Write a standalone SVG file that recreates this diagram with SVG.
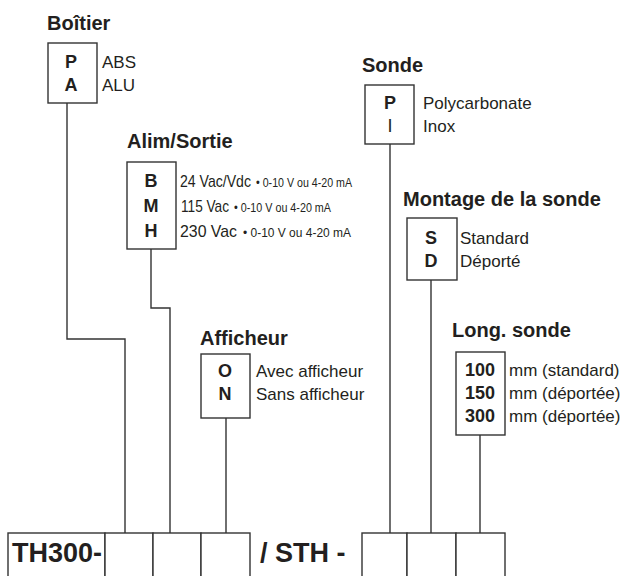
<svg xmlns="http://www.w3.org/2000/svg" width="623" height="576" viewBox="0 0 623 576">
<style>
.box{fill:#fff;stroke:#333;stroke-width:1.4}
.ln{fill:none;stroke:#333;stroke-width:1.4}
.t{font-family:"Liberation Sans",Arial,sans-serif;fill:#231f20}
.ti{font-size:20px;font-weight:bold}
.k{font-size:18px;font-weight:bold;text-anchor:middle}
.d{font-size:17px}
.s{font-size:12px}
.big{font-size:27px;font-weight:bold}
</style>
<rect width="623" height="576" fill="#fff"/>
<g id="connectors">
<path class="ln" d="M67,103 V339 H125 V533"/>
<path class="ln" d="M151,249 V308 H170 V533"/>
<path class="ln" d="M226,418 V533"/>
<path class="ln" d="M390,144 V533"/>
<path class="ln" d="M431,280 V533"/>
<path class="ln" d="M480,435 V533"/>
</g>
<g id="boitier">
<text class="t ti" x="47" y="30">Boîtier</text>
<rect class="box" x="48" y="43" width="49" height="60"/>
<text class="t k" x="71" y="68">P</text>
<text class="t k" x="71" y="91">A</text>
<text class="t d" x="102" y="68">ABS</text>
<text class="t d" x="102" y="91">ALU</text>
</g>
<g id="alim">
<text class="t ti" x="127" y="148">Alim/Sortie</text>
<rect class="box" x="127" y="162" width="49" height="87"/>
<text class="t k" x="151" y="187">B</text>
<text class="t k" x="151" y="212">M</text>
<text class="t k" x="151" y="237">H</text>
<text class="t d" x="180" y="187" textLength="71" lengthAdjust="spacingAndGlyphs">24 Vac/Vdc</text>
<text class="t s" x="256" y="187" textLength="96" lengthAdjust="spacingAndGlyphs">• 0-10 V ou 4-20 mA</text>
<text class="t d" x="181" y="212" textLength="48" lengthAdjust="spacingAndGlyphs">115 Vac</text>
<text class="t s" x="234" y="212" textLength="97" lengthAdjust="spacingAndGlyphs">• 0-10 V ou 4-20 mA</text>
<text class="t d" x="180" y="237" textLength="57" lengthAdjust="spacingAndGlyphs">230 Vac</text>
<text class="t s" x="243" y="237" textLength="108" lengthAdjust="spacingAndGlyphs">• 0-10 V ou 4-20 mA</text>
</g>
<g id="afficheur">
<text class="t ti" x="200" y="345">Afficheur</text>
<rect class="box" x="201" y="354" width="49" height="64"/>
<text class="t k" x="225" y="377">O</text>
<text class="t k" x="225" y="400">N</text>
<text class="t d" x="256" y="377">Avec afficheur</text>
<text class="t d" x="256" y="400">Sans afficheur</text>
</g>
<g id="sonde">
<text class="t ti" x="362" y="72">Sonde</text>
<rect class="box" x="365" y="85" width="49" height="59"/>
<text class="t k" x="390" y="109">P</text>
<text class="t" x="390" y="132" font-size="18" text-anchor="middle">I</text>
<text class="t d" x="423" y="109">Polycarbonate</text>
<text class="t d" x="423" y="132">Inox</text>
</g>
<g id="montage">
<text class="t ti" x="403" y="206">Montage de la sonde</text>
<rect class="box" x="407" y="218" width="50" height="62"/>
<text class="t k" x="431" y="244">S</text>
<text class="t k" x="431" y="267">D</text>
<text class="t d" x="460" y="244">Standard</text>
<text class="t d" x="460" y="267">Déporté</text>
</g>
<g id="longueur">
<text class="t ti" x="452" y="337">Long. sonde</text>
<rect class="box" x="456" y="352" width="49" height="83"/>
<text class="t k" x="480" y="376">100</text>
<text class="t k" x="480" y="399">150</text>
<text class="t k" x="480" y="422">300</text>
<text class="t d" x="509" y="376">mm (standard)</text>
<text class="t d" x="509" y="399">mm (déportée)</text>
<text class="t d" x="509" y="422">mm (déportée)</text>
</g>
<g id="code">
<rect class="box" x="8" y="533" width="97" height="60"/>
<rect class="box" x="105" y="533" width="48" height="60"/>
<rect class="box" x="153" y="533" width="48" height="60"/>
<rect class="box" x="201" y="533" width="49" height="60"/>
<text class="t big" x="12" y="562">TH300-</text>
<text class="t big" x="260" y="562">/ STH -</text>
<rect class="box" x="362" y="533" width="45" height="60"/>
<rect class="box" x="407" y="533" width="49" height="60"/>
<rect class="box" x="456" y="533" width="49" height="60"/>
</g>
</svg>
